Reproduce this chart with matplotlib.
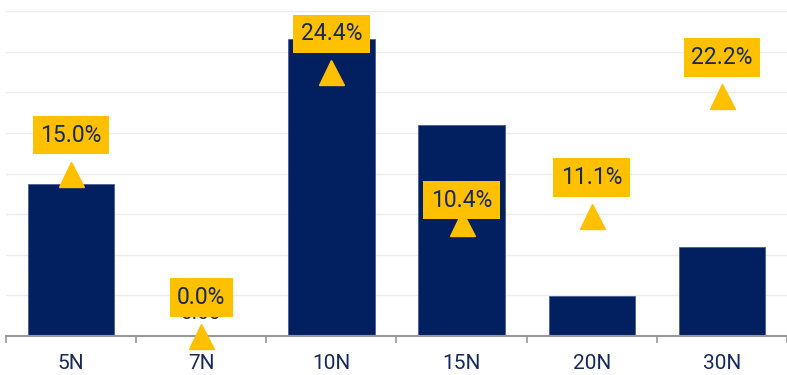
import numpy as np
import matplotlib
import matplotlib.pyplot as plt

matplotlib.use("Agg")

plt.rcParams["font.family"] = "Roboto"

categories = ["5N", "7N", "10N", "15N", "20N", "30N"]
bar_values = [3.74, 0.00, 7.31, 5.20, 0.99, 2.19]
pct_values = [15.0, 0.0, 24.4, 10.4, 11.1, 22.2]

NAVY = "#022060"
GOLD = "#FFC000"
TEXT = "#16295c"

# vertical offset (points) of each percentage tag above its marker
tag_offsets = {"15N": 16.5}
DEFAULT_OFFSET = 27.5

fig = plt.figure(figsize = (7.87, 3.75), dpi = 100)
ax = fig.add_axes([6 / 787, 39.3 / 375, 781 / 787, 324.4 / 375])

x = np.arange(len(categories))

bars = ax.bar(x, bar_values, width = 0.663, color = NAVY, edgecolor = "#4a5d8f", linewidth = 0.6, zorder = 2)
ax.bar_label(bars, labels = [f"{v:.2f}" if v == 0 else "" for v in bar_values], padding = 9, color = TEXT, fontsize = 15, zorder = 3)

ax.set_xlim(-0.5, len(categories) - 0.5)
ax.set_ylim(0, 8)
ax.set_yticks(np.arange(0, 9, 1))
ax.yaxis.grid(True, color = "#ececec", linewidth = 1.0, zorder = 0)
ax.set_axisbelow(True)

ax.set_xticks(x)
ax.set_xticklabels(categories, fontsize = 15, color = TEXT)
ax.set_xticks(np.arange(-0.5, len(categories)), minor = True)
ax.tick_params(axis = "x", which = "major", length = 0, pad = 13)
ax.tick_params(axis = "x", which = "minor", length = 5, width = 1.2, color = "#999999", direction = "out")

for side in ["top", "right", "left"]:
    ax.spines[side].set_visible(False)
ax.spines["bottom"].set_color("#999999")
ax.spines["bottom"].set_linewidth(1.5)
ax.spines["bottom"].set_zorder(4)

# percentage series on its own scale
ax2 = ax.twinx()
ax2.set_ylim(0, 30)
ax2.axis("off")
ax.tick_params(axis = "y", which = "both", left = False, right = False, labelleft = False, labelright = False)

ax2.plot(x, pct_values, linestyle = "none", marker = "^", markersize = 18, color = GOLD, clip_on = False, zorder = 5)

for xi, cat, p in zip(x, categories, pct_values):
    ax2.annotate(f"{p:.1f}%", (xi, p), xytext = (0, tag_offsets.get(cat, DEFAULT_OFFSET)), textcoords = "offset points",
                 ha = "center", va = "center", fontsize = 16.5, color = TEXT, zorder = 6,
                 bbox = dict(boxstyle = "square,pad=0.33", facecolor = GOLD, edgecolor = "none"))

fig.savefig("out.png", dpi = 100)
